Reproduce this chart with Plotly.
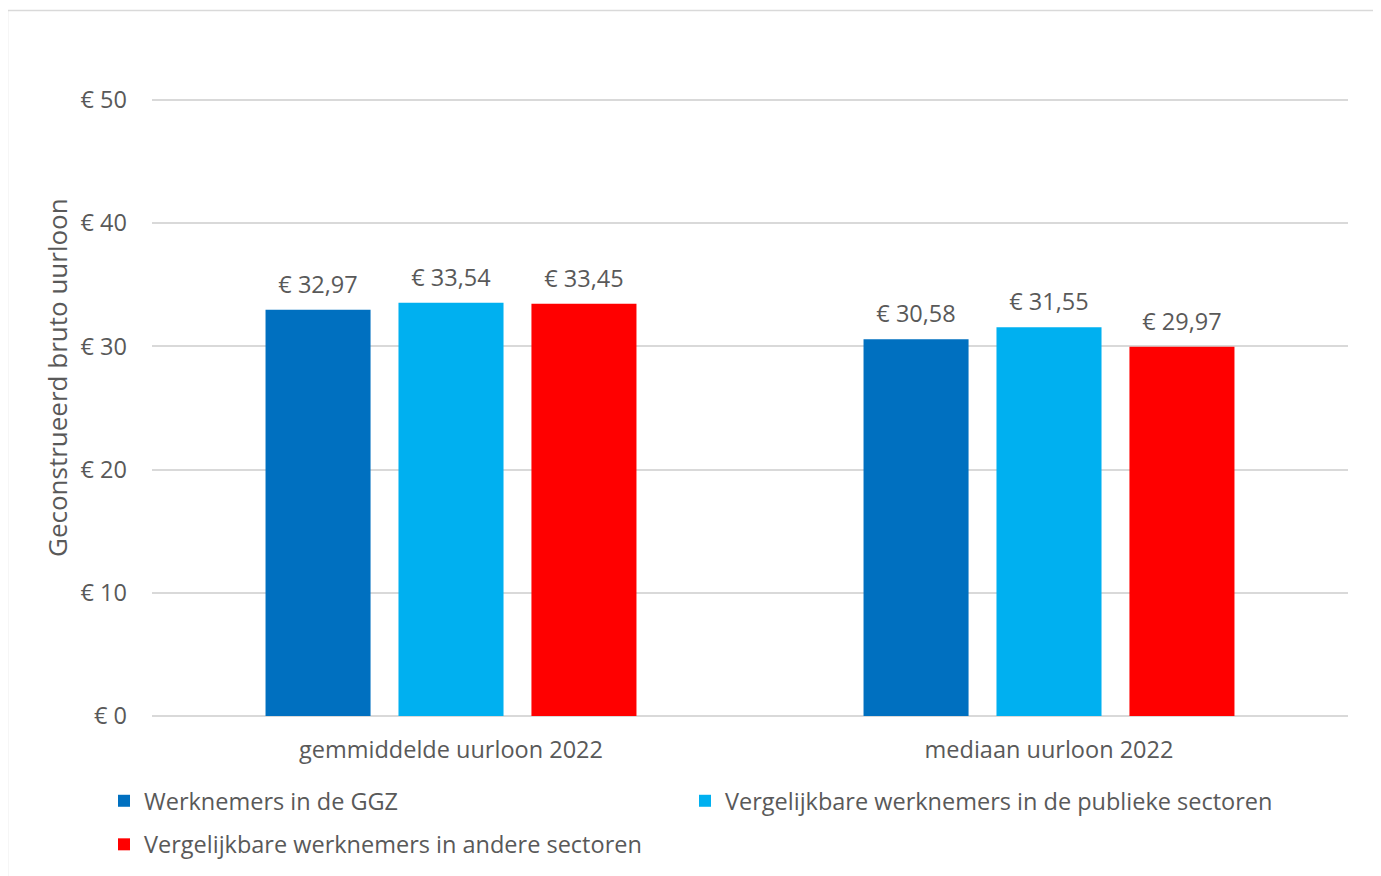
import plotly.graph_objects as go

categories = ["gemmiddelde uurloon 2022", "mediaan uurloon 2022"]
series_names = [
    "Werknemers in de GGZ",
    "Vergelijkbare werknemers in de publieke sectoren",
    "Vergelijkbare werknemers in andere sectoren",
]
ggz = [32.97, 30.58]
publiek = [33.54, 31.55]
andere = [33.45, 29.97]
colors = ["#0070C0", "#00B0F0", "#FF0000"]
tick_vals = [0, 10, 20, 30, 40, 50]
tick_text = ["€ " + str(v) for v in tick_vals]

FONT = "Open Sans"
GREY = "#595959"
FS = 23.5


def euro(v):
    return "€ " + f"{v:.2f}".replace(".", ",")


legend_of = ["legend", "legend2", "legend"]

fig = go.Figure()
all_series = [ggz, publiek, andere]
for i, (name, vals, col) in enumerate(zip(series_names, all_series, colors)):
    fig.add_trace(go.Bar(
        x=categories, y=vals, name=name, marker=dict(color=col, line=dict(width=0)),
        offsetgroup=str(i), legendgroup="g" + str(i), legend=legend_of[i],
        hoverinfo="skip",
    ))
for i, (name, vals, col) in enumerate(zip(series_names, all_series, colors)):
    fig.add_trace(go.Scatter(
        x=categories, y=vals, mode="markers+text", offsetgroup=str(i),
        text=[euro(v) for v in vals], textposition="top center",
        textfont=dict(family=FONT, size=FS, color=GREY),
        marker=dict(size=16, opacity=0), showlegend=False, hoverinfo="skip",
    ))

# page is offset by the 8px body margin
OFF = 8
W, H = 1373, 868
YMAX = 50.4
L, R, B = 144, 33, 160
scale = 616 / 50.0
T = round((H - B) - YMAX * scale)
pw, ph = W - L - R, H - T - B


def px_x(p):
    return ((p - OFF) - L) / pw


def px_y(p):
    return ((H - B) - (p - OFF)) / ph


legend_common = dict(
    orientation="v", xanchor="left", yanchor="top",
    font=dict(family=FONT, size=FS, color=GREY),
    itemclick=False, itemdoubleclick=False, traceorder="grouped",
    bgcolor="rgba(0,0,0,0)", tracegroupgap=10,
)

fig.update_layout(
    width=W, height=H,
    margin=dict(l=L, r=R, t=T, b=B, pad=0, autoexpand=False),
    paper_bgcolor="white", plot_bgcolor="white",
    barmode="group", bargap=0.333, bargroupgap=0.21,
    scattermode="group", scattergap=0.333,
    font=dict(family=FONT, size=FS, color=GREY),
    showlegend=True,
    legend=dict(x=px_x(104), y=px_y(779), **legend_common),
    legend2=dict(x=px_x(685), y=px_y(779), **legend_common),
    xaxis=dict(
        showgrid=False, showline=False, zeroline=False, ticks="",
        tickfont=dict(family=FONT, size=FS, color=GREY), ticklabelstandoff=17,
    ),
    yaxis=dict(
        range=[0, YMAX], tickmode="array", tickvals=tick_vals, ticktext=tick_text,
        showgrid=True, gridcolor="#D9D9D9", gridwidth=1.5,
        zeroline=True, zerolinecolor="#D9D9D9", zerolinewidth=1.5,
        showline=False, ticks="", ticklabelstandoff=24,
        tickfont=dict(family=FONT, size=FS, color=GREY),
    ),
    annotations=[dict(
        text="Geconstrueerd bruto uurloon", textangle=-90, showarrow=False,
        xref="paper", yref="paper", x=px_x(57), y=px_y(378),
        xanchor="center", yanchor="middle",
        font=dict(family=FONT, size=26, color=GREY),
    )],
    shapes=[dict(
        type="rect", xref="paper", yref="paper",
        x0=px_x(7.5), x1=px_x(1375.5), y0=px_y(900), y1=px_y(10.5),
        line=dict(color="#D9D9D9", width=1.5), fillcolor="rgba(0,0,0,0)", layer="below",
    )],
)

fig.write_html("out.html")
